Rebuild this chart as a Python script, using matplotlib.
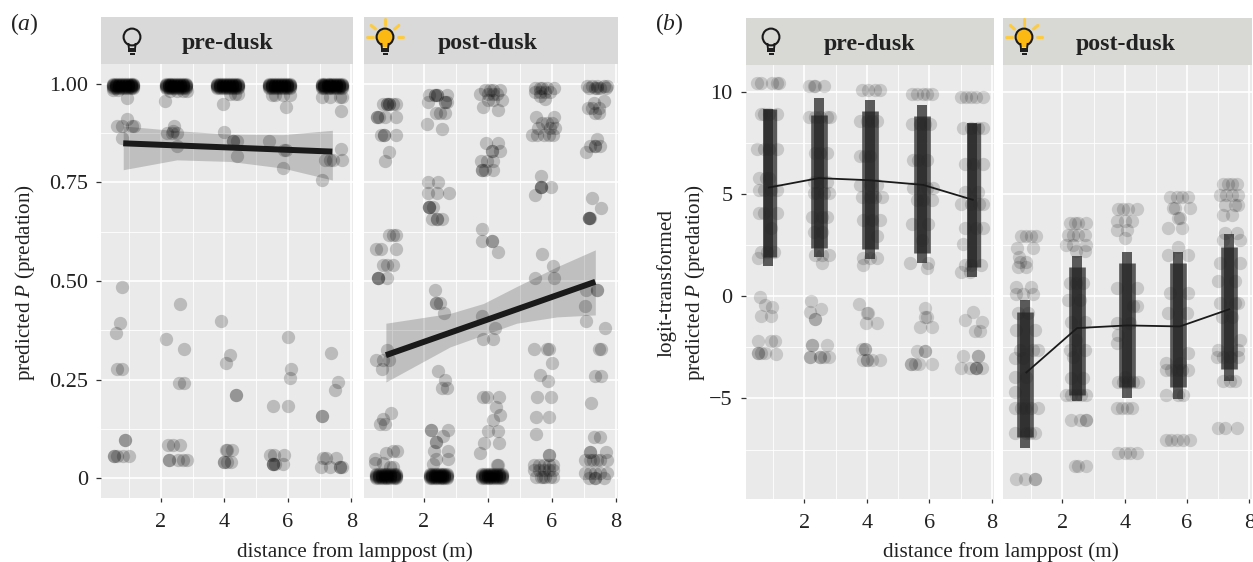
import numpy as np
import matplotlib
matplotlib.use('Agg')
import matplotlib.pyplot as plt
from matplotlib.patches import Circle, Rectangle

plt.rcParams['font.family'] = ['Liberation Serif', 'DejaVu Serif']
plt.rcParams['mathtext.fontset'] = 'custom'
plt.rcParams['mathtext.rm'] = 'Liberation Serif'
plt.rcParams['mathtext.it'] = 'Liberation Serif:italic'

''' Data: each y level comes with the x positions of the points sitting on it '''
# (a) pre-dusk
a_pre_top_x = [[0.50, 0.59, 0.68, 0.77, 0.86, 0.95, 1.04, 1.13],
               [2.15, 2.24, 2.33, 2.42, 2.51, 2.60, 2.69, 2.78],
               [3.77, 3.87, 3.96, 4.06, 4.15, 4.25, 4.34, 4.44],
               [5.40, 5.49, 5.59, 5.68, 5.78, 5.87, 5.97, 6.06],
               [7.06, 7.15, 7.25, 7.34, 7.43, 7.52, 7.62, 7.71]]
a_pre_top_y = [1.0, 0.998, 0.996, 0.994, 0.992, 0.990]
a_pre_y = [0.964, 0.91, 0.893, 0.862, 0.983, 0.484, 0.394, 0.369, 0.276, 0.098, 0.057,
           0.957, 0.875, 0.893, 0.879, 0.841, 0.981, 0.441, 0.352, 0.327, 0.241, 0.084, 0.047,
           0.949, 0.877, 0.856, 0.816, 0.975, 0.398, 0.313, 0.291, 0.211, 0.071, 0.041,
           0.856, 0.832, 0.786, 0.941, 0.972, 0.357, 0.278, 0.255, 0.184, 0.060, 0.035,
           0.756, 0.834, 0.807, 0.93, 0.967, 0.318, 0.245, 0.225, 0.158, 0.052, 0.029]
a_pre_x = [[0.92], [0.92], [0.60, 0.76, 1.08, 1.16], [0.78], [0.50, 0.66], [0.78], [0.71], [0.57], [0.60, 0.78], [0.87, 0.87], [0.52, 0.52, 0.60, 0.81, 1.0],
           [2.13], [2.18, 2.34, 2.49], [2.41], [2.37], [2.52], [2.28, 2.49, 2.70, 2.81], [2.61], [2.15], [2.71], [2.56, 2.72], [2.23, 2.39, 2.60], [2.24, 2.24, 2.55, 2.68, 2.81],
           [3.96], [3.98], [4.28, 4.28, 4.40], [4.40], [4.17, 4.33, 4.44], [3.88], [4.18], [4.04], [4.36, 4.36], [4.04, 4.09, 4.25], [3.99, 3.99, 4.07, 4.22],
           [5.41], [5.88, 5.94], [5.83], [5.94], [5.49, 5.59, 5.85, 6.06], [6.0], [6.09], [6.08], [5.52, 6.0], [5.45, 5.56, 5.87], [5.52, 5.52, 5.52, 5.58, 5.83],
           [7.08], [7.66], [7.16, 7.32, 7.43, 7.69], [7.66], [7.06, 7.32, 7.64, 7.71], [7.37], [7.57], [7.49], [7.06, 7.06], [7.11, 7.20, 7.53], [7.03, 7.34, 7.64, 7.64, 7.69]]
a_pre_fit_x = [0.81, 7.40]
a_pre_fit_y = [0.849, 0.828]
a_pre_rib_x = [0.81, 2.50, 4.18, 5.85, 7.40]
a_pre_rib_lo = [0.782, 0.807, 0.803, 0.786, 0.756]
a_pre_rib_hi = [0.893, 0.881, 0.872, 0.871, 0.882]

# (a) post-dusk
a_post_bot_x = [[0.49, 0.58, 0.68, 0.77, 0.86, 0.95, 1.05, 1.14],
                [2.19, 2.26, 2.34, 2.41, 2.49, 2.56, 2.64, 2.71],
                [3.81, 3.90, 3.99, 4.08, 4.17, 4.26, 4.35, 4.43]]
a_post_bot_y = [0.0, 0.003, 0.006, 0.009, 0.012]
a_post_y = [0.949, 0.915, 0.870, 0.827, 0.804, 0.617, 0.581, 0.540, 0.507, 0.325, 0.301, 0.30, 0.277, 0.166, 0.149, 0.137, 0.069, 0.063, 0.050, 0.039, 0.029,
            0.972, 0.953, 0.925, 0.898, 0.885, 0.752, 0.723, 0.688, 0.657, 0.477, 0.445, 0.418, 0.272, 0.249, 0.228, 0.122, 0.107, 0.091, 0.069, 0.05, 0.036,
            0.985, 0.974, 0.959, 0.942, 0.934, 0.849, 0.830, 0.805, 0.782, 0.632, 0.602, 0.574, 0.411, 0.382, 0.354, 0.206, 0.181, 0.160, 0.147, 0.120, 0.090, 0.064, 0.033,
            0.989, 0.98, 0.968, 0.962, 0.915, 0.901, 0.887, 0.871, 0.765, 0.739, 0.718, 0.568, 0.537, 0.508, 0.327, 0.293, 0.261, 0.246, 0.205, 0.156, 0.112, 0.058, 0.033, 0.02, 0.002,
            0.995, 0.989, 0.955, 0.951, 0.938, 0.926, 0.860, 0.843, 0.826, 0.710, 0.684, 0.659, 0.477, 0.437, 0.399, 0.380, 0.327, 0.259, 0.192, 0.105, 0.067, 0.047, 0.014, 0.0]
a_post_x = [[0.72, 0.83, 0.83, 0.91, 0.91, 1.02, 1.14], [0.52, 0.52, 0.60, 0.78, 1.14], [0.67, 0.75, 0.75, 1.14], [0.91], [0.78], [0.91, 1.04, 1.14], [0.49, 0.67, 1.12], [0.72, 0.83, 1.04], [0.57, 0.57, 0.57, 0.85], [0.85], [0.49], [0.72, 0.91], [0.69], [0.96], [0.72], [0.62, 0.78], [1.02, 1.16], [0.81], [0.46], [0.46, 0.72], [0.93, 1.04],
            [2.17, 2.34, 2.34, 2.42, 2.42, 2.73], [2.14, 2.66, 2.66, 2.71], [2.38, 2.50, 2.66], [2.10], [2.55], [2.14, 2.45], [2.14, 2.40, 2.78], [2.17, 2.17, 2.17, 2.27], [2.24, 2.42, 2.42, 2.58], [2.34], [2.38, 2.38, 2.50], [2.64], [2.45], [2.66], [2.55, 2.71], [2.22, 2.22, 2.76], [2.61], [2.38, 2.38], [2.33, 2.76], [2.38, 2.76], [2.27],
            [3.91, 4.07, 4.17, 4.38], [3.76, 4.01, 4.17, 4.28], [4.01, 4.17, 4.43], [3.84], [4.33], [3.93, 4.33], [4.12, 4.12, 4.38], [3.79, 3.97, 4.17], [3.83, 3.83, 3.91, 4.17], [3.81], [3.81, 4.12, 4.12], [4.33], [3.81], [4.23], [3.84, 4.17], [3.84, 3.97, 4.35], [4.26], [4.38], [4.17], [3.99, 4.33], [3.89, 4.35], [3.76], [4.28, 4.33],
            [5.48, 5.64, 5.69, 5.85, 6.06], [5.48, 5.64, 5.79, 5.95], [5.64], [5.79], [5.49, 6.08], [5.69, 5.85, 6.00], [5.58, 5.95, 6.11], [5.38, 5.53, 5.74, 5.90, 6.05], [5.66], [5.66, 5.66, 5.66, 5.98], [5.46], [5.69], [6.03], [5.46, 6.06], [5.44, 5.85, 5.92], [6.00], [5.64], [5.89], [5.54, 5.97], [5.51, 5.91], [5.51], [5.92, 5.92], [5.45, 5.60, 5.75, 5.90, 6.04], [5.45, 5.60, 5.75, 5.90, 6.04], [5.50, 5.65, 5.72, 5.80, 5.95, 6.04],
            [7.10, 7.26, 7.41, 7.62, 7.73], [7.15, 7.36, 7.41, 7.52, 7.68], [7.62], [7.31], [7.12, 7.26, 7.47], [7.36, 7.47], [7.41], [7.20, 7.36, 7.36, 7.52], [7.07], [7.25], [7.53], [7.15, 7.15, 7.15, 7.20], [7.08, 7.41, 7.41], [7.03], [7.08], [7.66], [7.47, 7.54], [7.34, 7.54], [7.21], [7.33, 7.50], [7.18, 7.18, 7.68], [7.05, 7.20, 7.30, 7.41, 7.52, 7.73], [7.05, 7.20, 7.35, 7.52, 7.73], [7.15, 7.36, 7.36, 7.62]]
a_post_fit_x = [0.81, 7.36]
a_post_fit_y = [0.312, 0.498]
a_post_rib_x = [0.81, 2.82, 3.86, 4.90, 6.16, 7.36]
a_post_rib_lo = [0.244, 0.333, 0.363, 0.393, 0.409, 0.414]
a_post_rib_hi = [0.393, 0.418, 0.443, 0.486, 0.536, 0.579]

# (b) pre-dusk
b_pre_y = [10.41, 8.91, 7.19, 5.77, 5.20, 4.08, 3.32, 2.18, 1.85, -0.05, -0.42, -0.54, -0.96, -2.21, -2.78, -2.82,
           10.25, 8.75, 7.02, 5.6, 5.03, 3.89, 3.16, 2.01, 1.61, -0.26, -0.75, -0.62, -1.12, -2.38, -2.98,
           10.09, 8.57, 6.83, 5.44, 4.84, 3.73, 2.96, 1.85, 1.53, -0.37, -0.8, -1.32, -2.57, -3.14,
           9.89, 8.41, 6.65, 5.28, 4.71, 3.53, 2.75, 1.64, 1.36, -0.59, -1.0, -1.51, -2.70, -3.32,
           9.73, 8.21, 6.47, 5.11, 4.49, 3.35, 2.54, 1.53, 1.20, -0.78, -1.16, -1.24, -1.68, -2.92, -3.52]
b_pre_x = [[0.49, 0.60, 0.97, 1.13, 1.18], [0.60, 0.70, 0.86, 1.13], [0.49, 0.70, 0.86, 1.13], [0.55, 0.76, 0.86], [0.55, 0.70, 0.92, 1.13], [0.55, 0.70, 1.13], [0.92], [0.60, 0.81, 1.02], [0.51], [0.57], [0.74], [0.97], [0.60, 0.92], [0.51, 0.92, 1.06], [0.51, 0.51, 0.60, 0.74], [1.08],
           [2.14, 2.30, 2.35, 2.62], [2.14, 2.35, 2.51, 2.72, 2.83], [2.35, 2.51, 2.72], [2.30, 2.51, 2.72], [2.30, 2.40, 2.62, 2.78], [2.24, 2.56, 2.72], [2.30, 2.56], [2.35, 2.56, 2.78], [2.56], [2.21], [2.19], [2.54], [2.34, 2.34], [2.24, 2.24, 2.72], [2.19, 2.19, 2.51, 2.51, 2.62, 2.78],
           [3.84, 4.05, 4.26, 4.42], [3.78, 4.0, 4.15, 4.31], [3.78, 3.94, 4.10], [3.78, 4.10, 4.31], [3.84, 4.10, 4.26, 4.47], [3.89, 4.15, 4.42], [4.31], [3.89, 4.10, 4.31], [3.89], [3.76], [4.0, 4.05], [3.97, 4.33], [3.84, 3.94, 3.94], [3.89, 3.99, 3.99, 4.15, 4.42],
           [5.43, 5.59, 5.80, 5.91, 6.07], [5.43, 5.69, 5.85, 6.01], [5.48, 5.64, 5.91], [5.48, 5.91, 6.12], [5.59, 5.80, 6.07], [5.43, 5.96], [5.75], [5.38, 5.96], [5.91], [5.85], [5.85, 5.93], [5.69, 6.10], [5.62, 5.85, 5.85], [5.40, 5.40, 5.53, 5.67, 6.07],
           [7.02, 7.18, 7.34, 7.50, 7.72], [7.08, 7.34, 7.55, 7.72], [7.13, 7.39, 7.72], [7.13, 7.55], [7.02, 7.34, 7.60, 7.72], [7.13, 7.50, 7.72], [7.08], [7.13, 7.34, 7.66], [7.02, 7.29], [7.41], [7.13], [7.68], [7.45, 7.61], [7.08, 7.55, 7.55], [7.0, 7.29, 7.5, 7.5, 7.5, 7.68]]
b_pre_bar_x = [0.90, 0.84, 2.47, 2.47, 4.10, 4.10, 5.75, 5.75, 7.42, 7.37]
b_pre_bar_lo = [1.93, 1.48, 2.37, 1.93, 2.31, 1.82, 2.10, 1.61, 1.44, 0.95]
b_pre_bar_hi = [9.14, 9.14, 8.87, 9.71, 9.06, 9.60, 8.83, 9.36, 8.46, 8.46]
b_pre_mean_x = [0.86, 2.46, 4.05, 5.80, 7.39]
b_pre_mean_y = [5.31, 5.77, 5.67, 5.44, 4.71]

# (b) post-dusk
b_post_y = [2.94, 2.37, 1.93, 1.69, 1.44, 0.47, 0.11, -0.83, -1.65, -2.62, -3.03, -3.93, -4.66, -5.47, -6.69, -8.94,
            3.56, 2.99, 2.5, 2.21, 0.64, -0.18, -1.24, -2.13, -2.62, -2.95, -4.0, -4.82, -6.07, -8.32,
            4.25, 3.67, 3.24, 2.83, 0.39, -0.5, -1.32, -1.89, -2.3, -3.93, -4.2, -5.47, -7.67,
            4.84, 4.30, 3.81, 3.35, 2.42, 2.01, 0.15, -0.83, -2.79, -3.27, -3.6, -4.82, -7.05,
            5.47, 4.95, 4.46, 3.97, 3.08, 2.75, 1.6, 0.72, -0.34, -1.0, -2.13, -2.62, -2.98, -4.17, -6.45]
b_post_x = [[0.68, 0.84, 1.0, 1.14], [0.55, 1.06], [0.61], [0.63, 0.84], [0.57, 0.84], [0.52, 1.0], [0.52, 0.74, 1.06], [0.57, 0.90], [0.5, 1.11], [0.63, 1.06, 1.22], [0.47, 0.74], [0.47, 0.84], [0.47], [0.47, 0.68, 0.79, 1.0, 1.22], [0.47, 0.84, 0.95, 1.11], [0.5, 0.79, 1.11, 1.11],
            [2.24, 2.40, 2.50, 2.77], [2.18, 2.34, 2.50, 2.72], [2.13, 2.34, 2.77], [2.45, 2.72], [2.24, 2.45, 2.66], [2.18, 2.56], [2.29, 2.72], [2.45], [2.24, 2.72], [2.34], [2.29, 2.66], [2.13, 2.29, 2.45, 2.61, 2.77], [2.29, 2.56, 2.77, 2.77], [2.40, 2.50, 2.77],
            [3.79, 3.95, 4.11, 4.38], [3.74, 4.0, 4.22], [3.74, 4.06], [4.0], [3.74, 4.38], [4.27, 4.38], [3.74, 4.17], [3.79], [3.74], [4.0], [3.79, 3.95, 4.11, 4.27, 4.43], [3.74, 3.90, 4.06, 4.22], [3.79, 4.0, 4.17, 4.38],
            [5.45, 5.67, 5.83, 6.04], [5.56, 5.61, 6.09], [5.72, 5.77], [5.40, 5.83], [5.72], [5.40, 6.04], [5.45, 6.04], [5.40, 5.99], [6.04], [5.34, 5.77], [5.34, 5.50, 5.67, 5.83, 6.04], [5.34, 5.72, 5.88], [5.34, 5.50, 5.67, 5.88, 6.09],
            [7.17, 7.33, 7.44, 7.6], [7.06, 7.27, 7.44, 7.65], [7.22, 7.54, 7.65], [7.17, 7.44], [7.22, 7.6], [7.17, 7.70], [7.06, 7.70], [7.0, 7.54], [7.06, 7.54, 7.65], [7.11, 7.44], [7.70], [7.0, 7.65], [6.95, 7.17, 7.38, 7.65], [7.17, 7.38, 7.54], [7.0, 7.22, 7.6]]
b_post_bar_x = [0.81, 0.81, 2.46, 2.46, 4.07, 4.07, 5.72, 5.72, 7.36, 7.36]
b_post_bar_lo = [-7.43, -6.86, -5.1, -4.82, -4.98, -4.45, -5.03, -4.45, -4.17, -3.57]
b_post_bar_hi = [-0.18, -0.75, 1.98, 1.44, 2.18, 1.6, 2.18, 1.6, 3.03, 2.42]
b_post_mean_x = [0.84, 2.47, 4.08, 5.77, 7.36]
b_post_mean_y = [-3.73, -1.56, -1.43, -1.48, -0.64]

x_ticks = [2, 4, 6, 8]
x_minor = [1, 3, 5, 7]
a_ticks = [0, 0.25, 0.5, 0.75, 1.0]
a_minor = [0.125, 0.375, 0.625, 0.875]
a_labels = ['0', '0.25', '0.50', '0.75', '1.00']
b_ticks = [-5, 0, 5, 10]
b_minor = [-7.5, -2.5, 2.5, 7.5]
b_labels = ['\u22125', '0', '5', '10']


''' Plotting the data '''
W, H = 1253, 562
text_col = '#222222'
fig = plt.figure(figsize=(W/100, H/100), dpi=100)

def px_axes(l, t, r, b, **kw):
    return fig.add_axes([l/W, 1-b/H, (r-l)/W, (b-t)/H], **kw)

def flat(xlists, levels):
    xs, ys = [], []
    for _x, _y in zip(xlists, levels):
        xs += _x
        ys += [_y]*len(_x)
    return xs, ys

def setup_panel(box, xlim, ylim, yticks, yminor, ylabels, strip_col, title, title_x):
    ax = px_axes(*box)
    ax.set_facecolor('#EAEAEA')
    for s in ax.spines.values():
        s.set_visible(False)
    ax.set_xlim(xlim)
    ax.set_ylim(ylim)
    ax.set_xticks(x_ticks)
    ax.set_xticks(x_minor, minor=True)
    ax.set_yticks(yticks)
    ax.set_yticks(yminor, minor=True)
    ax.grid(which='major', color='white', lw=1.2)
    ax.grid(which='minor', color='white', lw=0.6)
    ax.set_axisbelow(True)
    ax.tick_params(which='minor', length=0)
    ax.tick_params(axis='x', length=3, width=0.9, color='#333333', labelcolor=text_col, labelsize=16, pad=8)
    if ylabels is None:
        ax.tick_params(axis='y', which='both', left=False, labelleft=False)
    else:
        ax.set_yticklabels(ylabels)
        ax.tick_params(axis='y', length=3.5, width=0.9, color='#333333', labelcolor=text_col, labelsize=16, pad=6)
    # facet strip above the panel
    st = px_axes(box[0], box[1]-47, box[2], box[1])
    st.set_facecolor(strip_col)
    st.set_xticks([])
    st.set_yticks([])
    for s in st.spines.values():
        s.set_visible(False)
    st.text((title_x-box[0])/(box[2]-box[0]), 0.44, title, transform=st.transAxes, ha='center', va='center',
            fontsize=17.2, fontweight='bold', color=text_col)
    return ax

def scatter_pts(ax, xs, ys, alpha, s):
    ax.scatter(xs, ys, s=s, color='black', alpha=alpha, linewidths=0, zorder=3)

def draw_bulb(ov, cx, cy, lit):
    head = '#FDB913' if lit else 'none'
    ov.add_patch(Circle((cx, cy-1), 8.4, facecolor=head, edgecolor='#1a1a1a', lw=1.5, zorder=5))
    ov.add_patch(Rectangle((cx-3.5, cy+5), 7, 4, facecolor=head, edgecolor='none', zorder=5))
    ov.plot([cx-3.6, cx-3.2], [cy+6, cy+9], color='#1a1a1a', lw=1.4, zorder=6)
    ov.plot([cx+3.6, cx+3.2], [cy+6, cy+9], color='#1a1a1a', lw=1.4, zorder=6)
    for _d, _w in zip([10.5, 13, 15.5], [4, 3.7, 2.5]):
        ov.plot([cx-_w, cx+_w], [cy+_d, cy+_d], color='#1a1a1a', lw=1.4, zorder=6, solid_capstyle='butt')
    if lit:
        for _a in [0, 40, 90, 140, 180]:
            _r = np.radians(_a)
            ov.plot([cx+12.5*np.cos(_r), cx+18*np.cos(_r)], [cy-1-12.5*np.sin(_r), cy-1-18*np.sin(_r)],
                    color='#FDCB3F', lw=2.2, zorder=5, solid_capstyle='round')

# panel a
a_ylim = (-0.05, 1.05)
ax = setup_panel((101, 64, 353, 498), (0.11, 8.05), a_ylim, a_ticks, a_minor, a_labels, '#D9D9D9', 'pre-dusk', 228)
xs, ys = flat(a_pre_x, a_pre_y)
for _g in a_pre_top_x:
    _x, _y = flat([_g]*len(a_pre_top_y), a_pre_top_y)
    xs = xs + _x
    ys = ys + _y
scatter_pts(ax, xs, ys, 0.2, 92)
ax.fill_between(a_pre_rib_x, a_pre_rib_lo, a_pre_rib_hi, color='black', alpha=0.18, lw=0, zorder=4)
ax.plot(a_pre_fit_x, a_pre_fit_y, color='#1a1a1a', lw=4.3, solid_capstyle='butt', zorder=5)

ax = setup_panel((363.5, 64, 617.7, 498), (0.11, 8.06), a_ylim, a_ticks, a_minor, None, '#D9D9D9', 'post-dusk', 488)
xs, ys = flat(a_post_x, a_post_y)
for _g in a_post_bot_x:
    _x, _y = flat([_g]*len(a_post_bot_y), a_post_bot_y)
    xs = xs + _x
    ys = ys + _y
scatter_pts(ax, xs, ys, 0.2, 92)
ax.fill_between(a_post_rib_x, a_post_rib_lo, a_post_rib_hi, color='black', alpha=0.18, lw=0, zorder=4)
ax.plot(a_post_fit_x, a_post_fit_y, color='#1a1a1a', lw=4.3, solid_capstyle='butt', zorder=5)

# panel b
b_ylim = (-9.9, 11.3)
ax = setup_panel((745.7, 65, 994, 498.7), (0.12, 8.07), b_ylim, b_ticks, b_minor, b_labels, '#D8D8D5', 'pre-dusk', 870)
xs, ys = flat(b_pre_x, b_pre_y)
scatter_pts(ax, xs, ys, 0.15, 92)
pre_bar_lw = [9.6, 7.2, 12, 7.2, 12, 7.2, 12, 7.2, 9.6, 7.2]
for _i, _x in enumerate(b_pre_bar_x):
    ax.plot([_x, _x], [b_pre_bar_lo[_i], b_pre_bar_hi[_i]], color='#222222', alpha=0.72,
            lw=pre_bar_lw[_i], solid_capstyle='butt', zorder=4)
ax.plot(b_pre_mean_x, b_pre_mean_y, color='#1a1a1a', lw=1.3, zorder=5)

ax = setup_panel((1003.3, 65, 1251.7, 498.7), (0.1, 8.08), b_ylim, b_ticks, b_minor, None, '#D8D8D5', 'post-dusk', 1126)
xs, ys = flat(b_post_x, b_post_y)
scatter_pts(ax, xs, ys, 0.15, 92)
for _i, _x in enumerate(b_post_bar_x):
    ax.plot([_x, _x], [b_post_bar_lo[_i], b_post_bar_hi[_i]], color='#222222', alpha=0.72,
            lw=7.2 if _i % 2 == 0 else 12, solid_capstyle='butt', zorder=4)
ax.plot(b_post_mean_x, b_post_mean_y, color='#1a1a1a', lw=1.3, zorder=5)

# overlay in pixel coordinates for bulbs and labels
ov = fig.add_axes([0, 0, 1, 1], facecolor='none')
ov.set_xlim(0, W)
ov.set_ylim(H, 0)
ov.axis('off')
draw_bulb(ov, 132, 38, False)
draw_bulb(ov, 385, 38, True)
draw_bulb(ov, 771, 38, False)
draw_bulb(ov, 1024, 38, True)

ov.text(24, 24, r'($\mathit{a}$)', fontsize=17, color=text_col, ha='center', va='center')
ov.text(669, 24, r'($\mathit{b}$)', fontsize=17, color=text_col, ha='center', va='center')
ov.text(355, 552, 'distance from lamppost (m)', fontsize=15.3, color=text_col, ha='center', va='center')
ov.text(1001, 552, 'distance from lamppost (m)', fontsize=15.3, color=text_col, ha='center', va='center')
ov.text(25, 283, r'predicted $\mathit{P}$ (predation)', fontsize=15.2, color=text_col, rotation=90, ha='center', va='center')
ov.text(667, 283, 'logit-transformed', fontsize=15.2, color=text_col, rotation=90, ha='center', va='center')
ov.text(695, 283, r'predicted $\mathit{P}$ (predation)', fontsize=15.2, color=text_col, rotation=90, ha='center', va='center')

fig.savefig('out.png', dpi=100)
